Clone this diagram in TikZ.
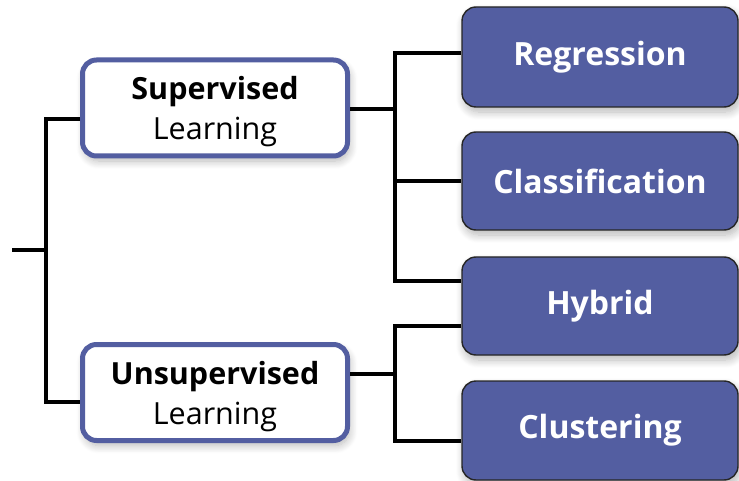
\documentclass[tikz,border=0pt]{standalone}
\usepackage{fontspec}
\setmainfont{Open Sans}
\usetikzlibrary{shadows.blur}
\definecolor{boxblue}{HTML}{535EA1}
\newcommand{\toppad}{\rule{0pt}{31pt}}
\begin{document}
\begin{tikzpicture}[x=1pt,y=-1pt,
  softshadow/.style={blur shadow={shadow blur steps=10, shadow blur extra rounding=4pt, shadow blur radius=8pt, shadow xshift=2pt, shadow yshift=-5pt, shadow opacity=28}},
  learnbox/.style={draw=boxblue, line width=5pt, fill=white, rounded corners=14pt,
    minimum width=265pt, minimum height=96pt, inner sep=0pt, align=center,
    font=\fontsize{30.5}{40}\selectfont, softshadow},
  typebox/.style={draw=black!85, line width=1.4pt, fill=boxblue, rounded corners=14pt,
    minimum width=276pt, minimum height=98pt, inner sep=0pt, text=white,
    font=\fontsize{32}{36}\selectfont\bfseries, softshadow},
  conn/.style={line width=3.3pt, black}]
\useasboundingbox (0,0) rectangle (739,481);

\node[learnbox] (sup) at (215,108) {\toppad\textbf{Supervised}\\Learning};
\node[learnbox] (uns) at (215,392.5) {\toppad\textbf{Unsupervised}\\Learning};

\node[typebox, minimum height=100pt] (reg) at (600,57) {Regression};
\node[typebox] (cla) at (600,181) {Classification};
\node[typebox] (hyb) at (600,306) {Hybrid};
\node[typebox, minimum height=99pt] (clu) at (600,430.5) {Clustering};

\coordinate (root) at (12,250);
\coordinate (trunk) at (46,250);
\coordinate (tsup) at (46,119);
\coordinate (tuns) at (46,402);
\coordinate (sj) at (395,109);
\coordinate (uj) at (395,374);

\draw[conn] (root) -- (trunk);
\draw[conn] (sup.west |- tsup) -- (tsup) -- (tuns) -- (uns.west |- tuns);

\draw[conn] (sup.east |- sj) -- (sj);
\draw[conn] (reg.west |- 0,53) -- (sj |- 0,53) -- (sj |- 0,281) -- (hyb.west |- 0,281);
\draw[conn] (sj |- cla) -- (cla.west);

\draw[conn] (uns.east |- uj) -- (uj);
\draw[conn] (hyb.west |- 0,326) -- (uj |- 0,326) -- (uj |- 0,441) -- (clu.west |- 0,441);
\end{tikzpicture}
\end{document}
